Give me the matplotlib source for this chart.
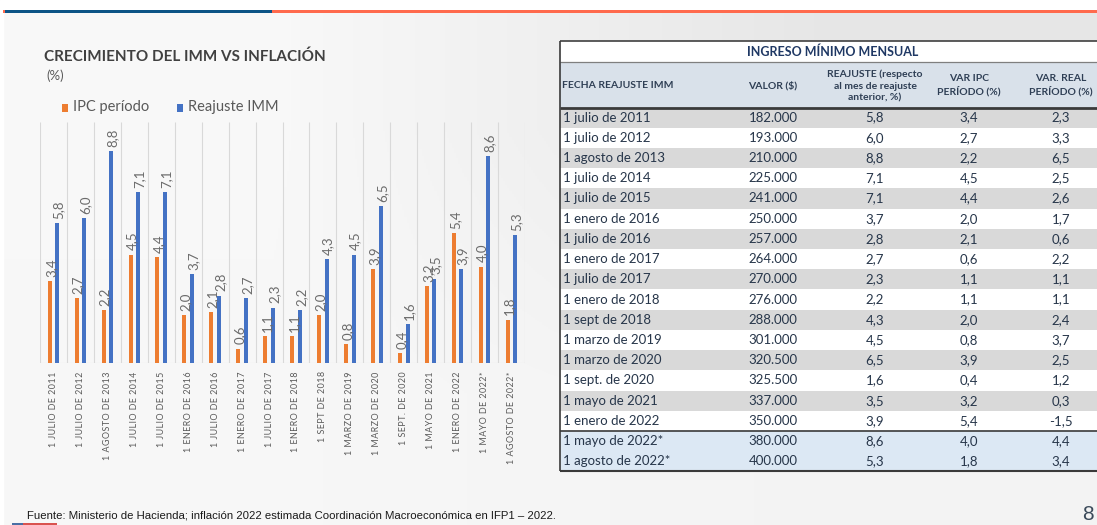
import numpy as np
import matplotlib.pyplot as plt
from matplotlib.patches import Rectangle
from matplotlib import font_manager

# data
dates = ["1 julio de 2011", "1 julio de 2012", "1 agosto de 2013", "1 julio de 2014",
         "1 julio de 2015", "1 enero de 2016", "1 julio de 2016", "1 enero de 2017",
         "1 julio de 2017", "1 enero de 2018", "1 sept de 2018", "1 marzo de 2019",
         "1 marzo de 2020", "1 sept. de 2020", "1 mayo de 2021", "1 enero de 2022",
         "1 mayo de 2022*", "1 agosto de 2022*"]
valor = [182000, 193000, 210000, 225000, 241000, 250000, 257000, 264000, 270000,
         276000, 288000, 301000, 320500, 325500, 337000, 350000, 380000, 400000]
reajuste = [5.8, 6.0, 8.8, 7.1, 7.1, 3.7, 2.8, 2.7, 2.3, 2.2, 4.3, 4.5, 6.5, 1.6, 3.5, 3.9, 8.6, 5.3]
ipc = [3.4, 2.7, 2.2, 4.5, 4.4, 2.0, 2.1, 0.6, 1.1, 1.1, 2.0, 0.8, 3.9, 0.4, 3.2, 5.4, 4.0, 1.8]
var_real = [2.3, 3.3, 6.5, 2.5, 2.6, 1.7, 0.6, 2.2, 1.1, 1.1, 2.4, 3.7, 2.5, 1.2, 0.3, -1.5, 4.4, 3.4]

series_names = ["IPC período", "Reajuste IMM"]
c_ipc = "#ED7D31"
c_rea = "#4472C4"


def has_font(name):
    try:
        font_manager.findfont(font_manager.FontProperties(family=name), fallback_to_default=False)
        return True
    except Exception:
        return False


FAM = ["Lato", "DejaVu Sans"]
plt.rcParams["font.family"] = FAM


def dec(v):
    return f"{v:.1f}".replace(".", ",")


W, H = 1097, 525
fig = plt.figure(figsize=(W / 100, H / 100), dpi=100)

# background in pixel coords
bg = fig.add_axes([0, 0, 1, 1])
grad = np.array([[[0.975] * 3, [0.905] * 3],
                 [[0.970] * 3, [0.955] * 3]])
bg.imshow(grad, extent=[0, W, H, 0], aspect="auto", interpolation="bilinear", zorder=0)
bg.set_xlim(0, W)
bg.set_ylim(H, 0)
bg.axis("off")
bg.add_patch(Rectangle((0, 0), W, 10, color="white", zorder=1))
bg.add_patch(Rectangle((0, 0), 3, H, color="white", zorder=1))
bg.add_patch(Rectangle((5, 10), 267, 3, color="#0d5486", lw=0, zorder=2))
bg.add_patch(Rectangle((272, 10), W - 272, 3, color="#ff6a4d", lw=0, zorder=2))
bg.add_patch(Rectangle((3, 10), 2, 3, color="#ff6a4d", lw=0, zorder=2))
bg.add_patch(Rectangle((12, 522.5), 11, 2.5, color="#4a6fa5", lw=0, zorder=2))
bg.add_patch(Rectangle((23, 522.5), 34, 2.5, color="#d9534f", lw=0, zorder=2))

# titles and legend
bg.text(44, 57, "CRECIMIENTO DEL IMM VS INFLACIÓN", fontsize=11, fontweight="bold",
        color="#404040", va="center", ha="left", zorder=3)
bg.text(46, 76, "(%)", fontsize=9.5, color="#595959", va="center", ha="left", zorder=3)
for lx, col, name in [(62, c_ipc, series_names[0]), (177, c_rea, series_names[1])]:
    bg.add_patch(Rectangle((lx, 103.5), 5.5, 8, color=col, lw=0, zorder=3))
    bg.text(lx + 11, 107.5, name, fontsize=10.5, color="#595959", va="center", ha="left", zorder=3)

# bar chart
ax = fig.add_axes([40 / W, 1 - 363 / H, 485 / W, 241 / H])
ax.set_facecolor("none")
x = np.arange(len(dates))
ax.set_xlim(-0.5, len(dates) - 0.5)
ax.set_ylim(0, 10)
ax.vlines(np.arange(len(dates) + 1) - 0.5, 0, 10, color="#d9d9d9", lw=0.8, zorder=1)
ax.axhline(0, color="#d9d9d9", lw=0.8, zorder=1)
b1 = ax.bar(x - 0.14, ipc, 0.15, color=c_ipc, zorder=2)
b2 = ax.bar(x + 0.14, reajuste, 0.15, color=c_rea, zorder=2)
for bars, vals in [(b1, ipc), (b2, reajuste)]:
    for r, v in zip(bars, vals):
        ax.annotate(dec(v), (r.get_x() + r.get_width() / 2, v), xytext=(1, 3),
                    textcoords="offset points", rotation=90, ha="center", va="bottom",
                    fontsize=9.5, color="#6b6b6b", zorder=3)
for s in ax.spines.values():
    s.set_visible(False)
labels = ["\u200a".join(d.upper()) for d in dates]
ax.set_xticks(x, labels, rotation=90, fontsize=6.4, color="#595959", family=FAM)
ax.tick_params(axis="x", length=0, pad=6)
ax.set_yticks([])

# table
tx0, tx1 = 560, W
ty_top, ty_title, ty_head = 41, 62, 107.5
rh = 20.22
cols_x = [773, 875, 969, 1061]
tcol = "#27364a"
n = len(dates)
bg.add_patch(Rectangle((tx0, ty_top), tx1 - tx0, ty_title - ty_top, color="white", lw=0, zorder=3))
bg.add_patch(Rectangle((tx0, ty_title), tx1 - tx0, ty_head - ty_title, color="#d9e1ea", lw=0, zorder=3))
for i in range(n):
    y0 = ty_head + i * rh
    if i >= n - 2:
        fc = "#dce8f4"
    elif i % 2 == 0:
        fc = "#d9d9d9"
    else:
        fc = "white"
    bg.add_patch(Rectangle((tx0, y0), tx1 - tx0, rh, color=fc, lw=0, zorder=3))
    yc = y0 + rh / 2
    bg.text(tx0 + 3, yc, dates[i], fontsize=9.5, color=tcol, va="center", ha="left", zorder=4)
    vals = [f"{valor[i]:,}".replace(",", "."), dec(reajuste[i]), dec(ipc[i]), dec(var_real[i])]
    for cx, s in zip(cols_x, vals):
        bg.text(cx, yc, s, fontsize=9.5, color=tcol, va="center", ha="center", zorder=4)

ty_bot = ty_head + n * rh
bg.text((tx0 + 1106) / 2, (ty_top + ty_title) / 2 + 0.5, "INGRESO MÍNIMO MENSUAL", fontsize=9,
        fontweight="bold", color="#1f3864", va="center", ha="center", zorder=4)
hk = dict(fontsize=7.5, fontweight="bold", color="#2f3f55", va="center", ha="center",
          zorder=4, linespacing=1.35)
bg.text(tx0 + 2, 86, "FECHA REAJUSTE IMM", **{**hk, "ha": "left"})
bg.text(cols_x[0], 86, "VALOR ($)", **hk)
bg.text(cols_x[1], 86, "REAJUSTE (respecto\nal mes de reajuste\nanterior, %)", **hk)
bg.text(cols_x[2], 85, "VAR IPC\nPERÍODO (%)", **hk)
bg.text(cols_x[3], 85, "VAR. REAL\nPERÍODO (%)", **hk)

lk = dict(zorder=5, solid_capstyle="butt")
bg.plot([tx0, tx1], [ty_top, ty_top], color="#404040", lw=1.2, **lk)
bg.plot([tx0, tx1], [ty_title, ty_title], color="#7f7f7f", lw=0.9, **lk)
bg.plot([tx0, tx1], [ty_head, ty_head], color="#3a3a3a", lw=2.0, **lk)
ysep = ty_head + (n - 2) * rh
bg.plot([tx0, tx1], [ysep, ysep], color="#3a3a3a", lw=1.2, **lk)
bg.plot([tx0, tx1], [ty_bot, ty_bot], color="#3a3a3a", lw=1.5, **lk)
bg.plot([tx0, tx0], [ty_top, ty_bot], color="#3a3a3a", lw=1.2, **lk)

# footer
if has_font("Liberation Sans Narrow"):
    ffam, fsz = ["Liberation Sans Narrow", "DejaVu Sans"], 9.2
else:
    ffam, fsz = ["Liberation Sans", "DejaVu Sans"], 8.2
bg.text(27, 515, "Fuente: Ministerio de Hacienda; inflación 2022 estimada Coordinación "
        "Macroeconómica en IFP1 – 2022.", fontsize=fsz, family=ffam, color="#1a1a1a",
        va="center", ha="left", zorder=3)
bg.text(1088, 514, "8", fontsize=15, family=ffam, color="#3b4a5a", va="center", ha="center", zorder=3)

fig.savefig("out.png", dpi=100)
